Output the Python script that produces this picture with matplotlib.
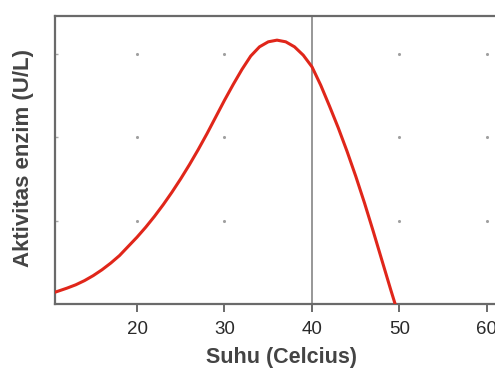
import matplotlib
matplotlib.use("Agg")
import matplotlib.pyplot as plt

plt.rcParams['font.family'] = ['Liberation Sans', 'DejaVu Sans']

# Data
suhu = [10.6, 12, 13, 14, 15, 16, 17, 18, 19, 20, 21, 22, 23, 24, 25, 26, 27,
        28, 29, 30, 31, 32, 33, 34, 35, 36, 37, 38, 39, 40, 41, 42, 43, 44,
        45, 46, 47, 48, 49, 49.5]
aktivitas = [0.14, 0.19, 0.23, 0.28, 0.34, 0.41, 0.49, 0.58, 0.69, 0.80, 0.92,
             1.05, 1.19, 1.34, 1.50, 1.67, 1.85, 2.04, 2.24, 2.44, 2.63, 2.81,
             2.97, 3.08, 3.14, 3.16, 3.14, 3.08, 2.98, 2.84, 2.62, 2.37, 2.11,
             1.83, 1.53, 1.21, 0.87, 0.52, 0.17, 0.0]
x_ticks = [20, 30, 40, 50, 60]
y_grid = [1, 2, 3]
garis_vertikal = 40

W, H = 495, 372
fig = plt.figure(figsize=(W / 100, H / 100), dpi=100)
left, right, top, bottom = 55, 505, 16, 304
ax = fig.add_axes([left / W, (H - bottom) / H, (right - left) / W, (bottom - top) / H])

px_per_deg = 8.75
x0 = 20 - (137 - left) / px_per_deg
ax.set_xlim(x0, x0 + (right - left) / px_per_deg)
ax.set_ylim(0, (bottom - top) / 83.5)

spine_col = '#6a6a6a'
for s in ['left', 'bottom', 'top']:
    ax.spines[s].set_color(spine_col)
    ax.spines[s].set_linewidth(1.6)
ax.spines['right'].set_visible(False)

# grid dots
gx = [x for x in x_ticks if x != garis_vertikal]
for yy in y_grid:
    ax.scatter(gx, [yy] * len(gx), s=5, color='#a0a0a0', zorder=1, linewidths=0)

ax.axvline(garis_vertikal, color='#7a7a7a', lw=1.1, zorder=2)

ax.plot(suhu, aktivitas, color='#e0261a', lw=2.2, zorder=3,
        solid_capstyle='round', solid_joinstyle='round')

ax.set_xticks(x_ticks)
ax.set_xticklabels([str(t) for t in x_ticks], fontsize=13.5, color='#2a2a2a')
ax.tick_params(axis='x', direction='out', length=6, width=1.4, color=spine_col, pad=6)
ax.set_yticks(y_grid)
ax.set_yticklabels([])
ax.tick_params(axis='y', direction='in', length=2, width=1, color='#aaaaaa')

fig.text(282 / W, 1 - 358 / H, 'Suhu (Celcius)', fontsize=15.5, fontweight='bold',
         color='#444444', ha='center', va='center')
fig.text(24 / W, 1 - 158 / H, 'Aktivitas enzim (U/L)', fontsize=16, fontweight='bold',
         color='#444444', ha='center', va='center', rotation=90)

fig.savefig('out.png', dpi=100)
